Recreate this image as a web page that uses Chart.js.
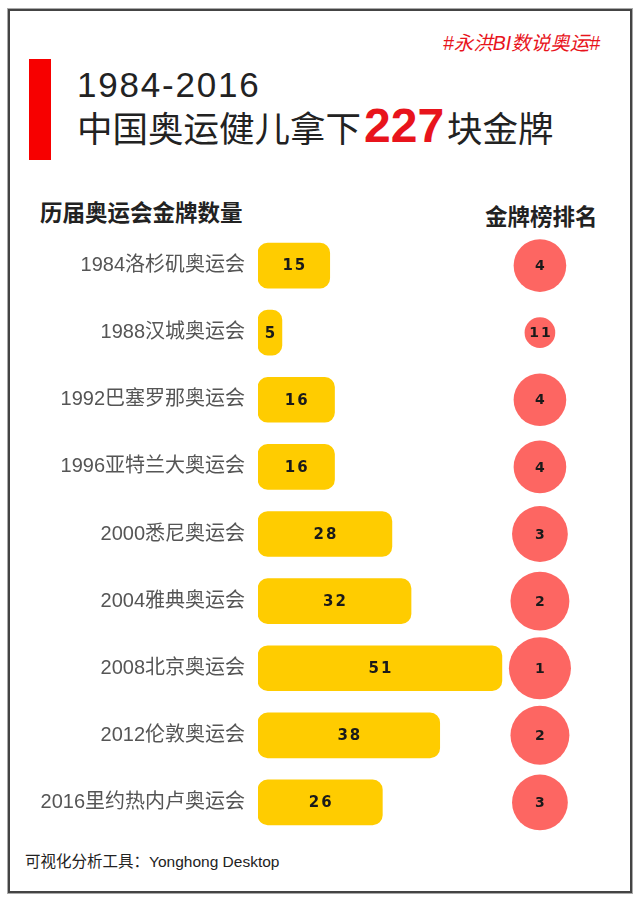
<!DOCTYPE html>
<html lang="zh">
<head>
    <meta charset="UTF-8">
    <title>1984-2016 中国奥运金牌</title>
    <script src="https://cdn.jsdelivr.net/npm/chart.js"></script>
    <style>
        body {
            margin: 0;
            background: #fff;
            font-family: "Liberation Sans", "Noto Sans CJK SC", sans-serif;
        }

        .page {
            position: relative;
            width: 641px;
            height: 901px;
            overflow: hidden;
        }

        .frame {
            position: absolute;
            left: 7px;
            top: 8px;
            width: 624px;
            height: 884px;
            border: 1px solid #aaa;
            box-shadow: inset 0 0 0 2px #444;
        }

        .tag {
            position: absolute;
            right: 41px;
            top: 27px;
            font-size: 19.5px;
            font-style: italic;
            color: #e8141c;
        }

        .red-bar {
            position: absolute;
            left: 29px;
            top: 59px;
            width: 22px;
            height: 101px;
            background: #f70000;
        }

        .title1 {
            position: absolute;
            left: 77px;
            top: 67px;
            font-size: 35px;
            line-height: 1;
            letter-spacing: 1.8px;
            color: #222;
        }

        .title2 {
            position: absolute;
            left: 77px;
            top: 104px;
            font-size: 35.5px;
            line-height: 44px;
            color: #222;
        }

        .title2 b {
            font-size: 48px;
            color: #e8141c;
            margin: 0 3px;
        }

        .sub {
            position: absolute;
            font-size: 22.5px;
            font-weight: bold;
            color: #222;
            line-height: 1;
        }

        .footer {
            position: absolute;
            left: 25px;
            top: 849px;
            font-size: 15.5px;
            color: #222;
        }

        .chart-box {
            position: absolute;
            left: 20px;
            top: 232px;
            width: 600px;
            height: 604px;
        }
    </style>
</head>
<body>
    <div class="page">
        <div class="frame"></div>
        <div class="tag">#永洪BI数说奥运#</div>
        <div class="red-bar"></div>
        <div class="title1">1984-2016</div>
        <div class="title2">中国奥运健儿拿下<b>227</b>块金牌</div>
        <div class="sub" style="left:40px; top:203px;">历届奥运会金牌数量</div>
        <div class="sub" style="left:485px; top:207px;">金牌榜排名</div>

        <div class="chart-box">
            <canvas id="medalChart"></canvas>
        </div>

        <div class="footer">可视化分析工具：Yonghong Desktop</div>
    </div>

    <script>
        const games = ['1984洛杉矶奥运会', '1988汉城奥运会', '1992巴塞罗那奥运会', '1996亚特兰大奥运会',
            '2000悉尼奥运会', '2004雅典奥运会', '2008北京奥运会', '2012伦敦奥运会', '2016里约热内卢奥运会'];
        const golds = [15, 5, 16, 16, 28, 32, 51, 38, 26];
        const ranks = [4, 11, 4, 4, 3, 2, 1, 2, 3];

        // better rank -> bigger circle
        function rankRadius(rank) {
            return 32.6 - 1.57 * rank;
        }

        const valueLabels = {
            id: 'valueLabels',
            afterDatasetsDraw(chart) {
                const ctx = chart.ctx;
                ctx.save();
                ctx.textAlign = 'center';
                ctx.textBaseline = 'middle';
                ctx.fillStyle = '#1a1a1a';

                const bars = chart.getDatasetMeta(0);
                ctx.font = 'bold 15px "DejaVu Sans"';
                ctx.letterSpacing = '2px';
                bars.data.forEach((bar, i) => {
                    ctx.fillText(golds[i], (bar.x + bar.base) / 2 + 1, bar.y + 1);
                });

                const dots = chart.getDatasetMeta(1);
                ctx.font = 'bold 14px "DejaVu Sans"';
                ctx.letterSpacing = '2px';
                dots.data.forEach((dot, i) => {
                    ctx.fillText(ranks[i], dot.x + 1, dot.y + 1);
                });
                ctx.restore();
            }
        };

        new Chart(document.getElementById('medalChart'), {
            data: {
                labels: games,
                datasets: [
                    {
                        type: 'bar',
                        data: golds,
                        backgroundColor: '#ffcc00',
                        borderRadius: 10,
                        borderSkipped: false,
                        barThickness: 45,
                        xAxisID: 'x',
                        yAxisID: 'y'
                    },
                    {
                        type: 'bubble',
                        data: games.map((g, i) => ({ x: 1, y: g, r: rankRadius(ranks[i]) })),
                        backgroundColor: '#fd6662',
                        borderWidth: 0,
                        clip: false,
                        xAxisID: 'x2',
                        yAxisID: 'y'
                    }
                ]
            },
            options: {
                indexAxis: 'y',
                responsive: true,
                maintainAspectRatio: false,
                animation: false,
                events: [],
                layout: { padding: 0, autoPadding: false },
                plugins: {
                    legend: { display: false },
                    tooltip: { enabled: false }
                },
                scales: {
                    x: {
                        display: false,
                        min: 0,
                        max: 75.7
                    },
                    x2: {
                        display: false,
                        min: 0,
                        max: 1.284
                    },
                    y: {
                        type: 'category',
                        offset: true,
                        grid: { display: false, drawTicks: false },
                        border: { display: false },
                        ticks: {
                            padding: 13,
                            color: '#555',
                            font: { size: 20, family: '"Liberation Sans", "Noto Sans CJK SC", sans-serif' }
                        },
                        afterFit(axis) {
                            axis.width = 238;
                            axis.paddingTop = 0;
                            axis.paddingBottom = 0;
                        }
                    }
                }
            },
            plugins: [valueLabels]
        });
    </script>
</body>
</html>
